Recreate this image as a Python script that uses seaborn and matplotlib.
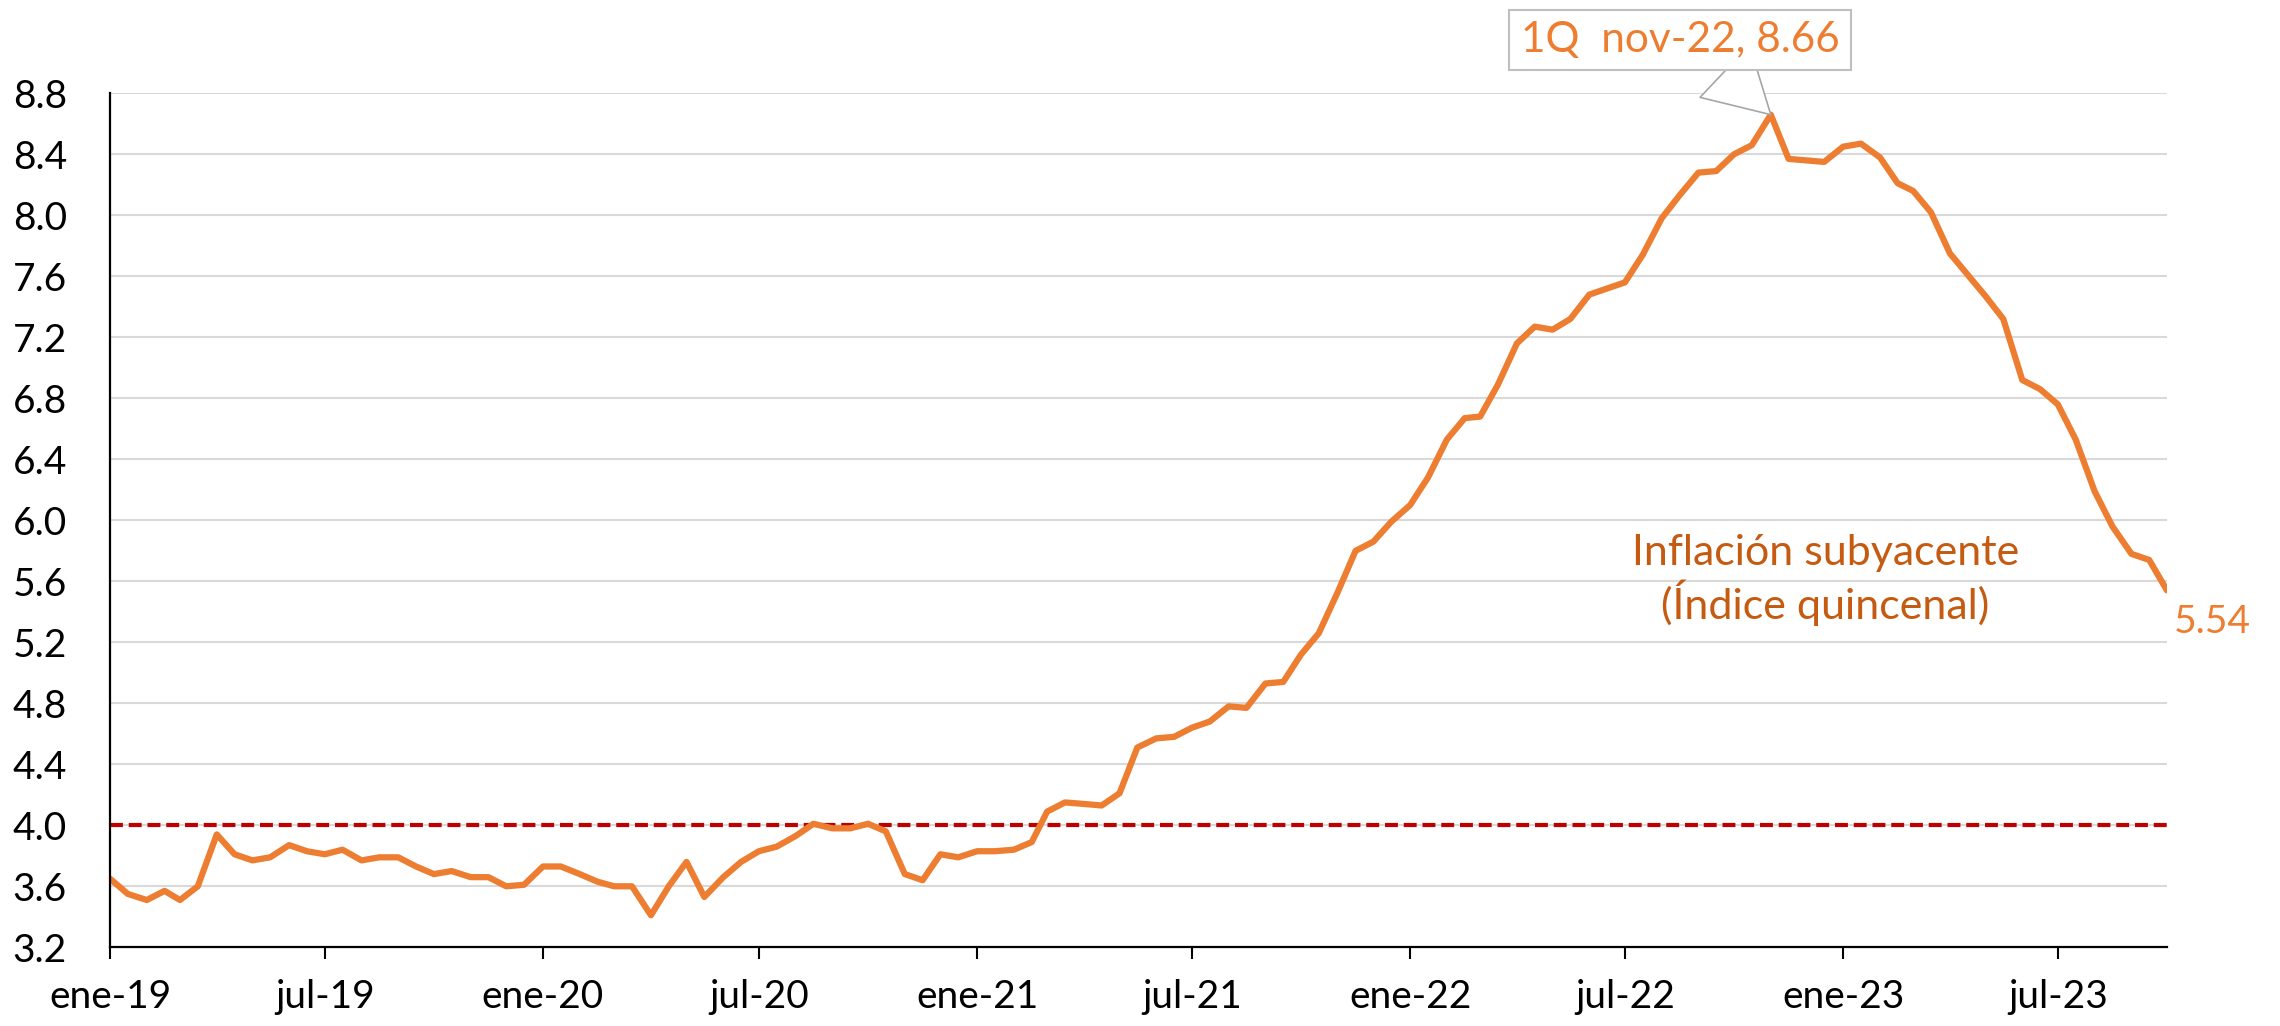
import numpy as np
import pandas as pd
import matplotlib
matplotlib.use("Agg")
import matplotlib.pyplot as plt
import matplotlib.dates as mdates
import seaborn as sns

# ---------------- data ----------------
# quincenas (1Q = day 1, 2Q = day 16) from 1Q ene-2019 to 1Q oct-2023
start_month = "2019-01"
end_month = "2023-10"

vals_2019 = [3.65, 3.55, 3.51, 3.57, 3.51, 3.60, 3.94, 3.81, 3.77, 3.79, 3.87, 3.83,
             3.81, 3.84, 3.77, 3.79, 3.79, 3.73, 3.68, 3.70, 3.66, 3.66, 3.60, 3.61]
vals_2020 = [3.73, 3.73, 3.68, 3.63, 3.60, 3.60, 3.41, 3.60, 3.76, 3.53, 3.66, 3.76,
             3.83, 3.86, 3.93, 4.01, 3.98, 3.98, 4.01, 3.96, 3.68, 3.64, 3.81, 3.79]
vals_2021 = [3.83, 3.83, 3.84, 3.89, 4.09, 4.15, 4.14, 4.13, 4.21, 4.51, 4.57, 4.58,
             4.64, 4.68, 4.78, 4.77, 4.93, 4.94, 5.12, 5.26, 5.53, 5.80, 5.86, 5.99]
vals_2022 = [6.10, 6.28, 6.53, 6.67, 6.68, 6.89, 7.16, 7.27, 7.25, 7.32, 7.48, 7.52,
             7.56, 7.74, 7.98, 8.13, 8.28, 8.29, 8.40, 8.46, 8.66, 8.37, 8.36, 8.35]
vals_2023 = [8.45, 8.47, 8.38, 8.21, 8.16, 8.02, 7.75, 7.61, 7.47, 7.32, 6.92, 6.86,
             6.76, 6.53, 6.19, 5.96, 5.78, 5.74, 5.54]

target = 4.0

tick_labels = ["ene-19", "jul-19", "ene-20", "jul-20", "ene-21", "jul-21",
               "ene-22", "jul-22", "ene-23", "jul-23"]
tick_dates = ["2019-01-01", "2019-07-01", "2020-01-01", "2020-07-01", "2021-01-01",
              "2021-07-01", "2022-01-01", "2022-07-01", "2023-01-01", "2023-07-01"]
y_ticks = [3.2, 3.6, 4.0, 4.4, 4.8, 5.2, 5.6, 6.0, 6.4, 6.8, 7.2, 7.6, 8.0, 8.4, 8.8]

peak_label = "1Q  nov-22, 8.66"
series_label = "Inflación subyacente\n(Índice quincenal)"

# build the table
months = pd.period_range(start_month, end_month, freq="M")
dates = []
for m in months:
    d1 = m.to_timestamp()
    dates.append(d1)
    dates.append(d1 + pd.Timedelta(days=15))
values = vals_2019 + vals_2020 + vals_2021 + vals_2022 + vals_2023
dates = dates[:len(values)]
df = pd.DataFrame({"fecha": dates, "valor": values})

# ---------------- style ----------------
sns.set_theme(style="white")
plt.rcParams["font.family"] = ["Lato", "DejaVu Sans"]

ORANGE = "#ED7D31"
DARK_ORANGE = "#C55A11"
RED = "#C00000"
GRID = "#D9D9D9"

fig = plt.figure(figsize=(22.8, 10.26), dpi=100)
ax = fig.add_axes([110 / 2280, 1 - 947.3 / 1026, (2167 - 110) / 2280, (947.3 - 93.3) / 1026])

# horizontal gridlines
for yv in y_ticks[1:]:
    ax.axhline(yv, color=GRID, lw=1.5, zorder=0)

# target line
ax.axhline(target, color=RED, lw=3.0, ls=(0, (3.1, 1.4)), zorder=2)

sns.lineplot(data=df, x="fecha", y="valor", ax=ax, color=ORANGE, lw=4.5,
             zorder=3, legend=False)

ax.set_xlim(df["fecha"].iloc[0], df["fecha"].iloc[-1])
ax.set_ylim(3.2, 8.8)
ax.set_xlabel("")
ax.set_ylabel("")

ax.set_xticks(pd.to_datetime(tick_dates))
ax.set_xticklabels(tick_labels)
ax.set_yticks(y_ticks)
ax.set_yticklabels([f"{v:.1f}" for v in y_ticks])

ax.tick_params(axis="x", direction="out", length=8.6, width=1.5, color="black",
               labelsize=28, pad=14, colors="black", bottom=True)
ax.tick_params(axis="y", length=0, labelsize=28, pad=31, colors="black")

for s in ["top", "right"]:
    ax.spines[s].set_visible(False)
for s in ["left", "bottom"]:
    ax.spines[s].set_color("black")
    ax.spines[s].set_linewidth(1.6)
ax.spines["left"].set_zorder(4)

# peak annotation
ipk = int(np.argmax(values))
ax.annotate(peak_label, xy=(df["fecha"].iloc[ipk], values[ipk]),
            xytext=(1680, 1026 - 40), textcoords="figure pixels",
            ha="center", va="center", fontsize=30.5, color=ORANGE,
            bbox=dict(boxstyle="square,pad=0.27", fc="white", ec="#BFBFBF", lw=1.5),
            arrowprops=dict(arrowstyle="wedge,tail_width=1.7", fc="white", ec="#A6A6A6",
                            lw=1.2, shrinkA=0, shrinkB=0, relpos=(0.6, 0)),
            annotation_clip=False, zorder=6)

# last value label
ax.annotate(f"{values[-1]:.2f}", xy=(df["fecha"].iloc[-1], values[-1]),
            xytext=(5, -23), textcoords="offset points", ha="left", va="center",
            fontsize=28, color=ORANGE, annotation_clip=False)

# series label
ax.text(0.834, 0.430, series_label, transform=ax.transAxes, ha="center", va="center",
        fontsize=31, color=DARK_ORANGE, linespacing=1.2)

fig.savefig("out.png", dpi=100, facecolor="white")
